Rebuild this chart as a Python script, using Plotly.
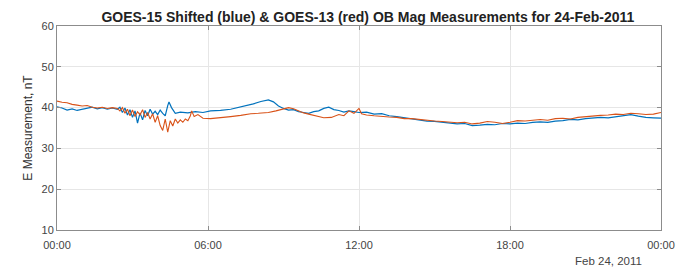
import plotly.graph_objects as go

# Hours since 00:00 on 24-Feb-2011
blue_t = [0.0, 0.2, 0.4, 0.6, 0.8, 1.0, 1.2, 1.4, 1.6, 1.8, 2.0, 2.2,
          2.4, 2.5, 2.6, 2.7, 2.8, 2.9, 3.0, 3.1, 3.2, 3.3, 3.4, 3.5, 3.6, 3.7, 3.8, 3.9,
          4.0, 4.1, 4.2, 4.3, 4.4, 4.45, 4.55, 4.7, 4.9, 5.2, 5.5, 5.8, 6.1, 6.5, 6.9,
          7.2, 7.5, 7.8, 8.1, 8.4, 8.6, 8.8, 9.0, 9.2, 9.4, 9.6, 9.8, 10.0, 10.2, 10.4,
          10.6, 10.8, 11.0, 11.2, 11.4, 11.6, 11.8, 12.0, 12.3, 12.6, 12.9, 13.2, 13.5,
          13.8, 14.1, 14.4, 14.7, 15.0, 15.3, 15.6, 15.9, 16.2, 16.5, 16.8, 17.1, 17.4,
          17.7, 18.0, 18.3, 18.6, 18.9, 19.2, 19.5, 19.8, 20.1, 20.4, 20.7, 21.0, 21.3,
          21.6, 21.9, 22.2, 22.5, 22.8, 23.1, 23.4, 23.7, 24.0]
blue_v = [40.2, 39.9, 39.4, 39.7, 39.3, 39.6, 39.9, 40.1, 39.7, 40.0, 39.6, 39.9,
          39.6, 40.1, 38.8, 39.9, 38.2, 39.5, 37.6, 39.2, 36.2, 38.7, 37.0, 39.3, 38.0, 39.6, 38.4, 39.1,
          38.3, 39.4, 38.6, 38.0, 40.5, 41.4, 40.0, 38.6, 38.9, 38.7, 39.0, 38.8, 39.2, 39.3, 39.6,
          40.0, 40.4, 40.9, 41.5, 41.9, 41.4, 40.4, 39.8, 39.4, 39.5, 39.0, 38.8, 38.6, 39.0, 39.2,
          39.8, 40.1, 39.5, 39.3, 38.9, 39.2, 39.0, 38.8, 38.9, 38.4, 38.5, 38.0, 37.8,
          37.5, 37.2, 37.0, 36.7, 36.6, 36.4, 36.3, 36.0, 36.1, 35.6, 35.7, 35.9, 35.8,
          36.1, 36.0, 36.2, 36.1, 36.4, 36.5, 36.4, 36.7, 36.8, 37.1, 37.0, 37.3, 37.4,
          37.6, 37.5, 37.8, 38.1, 38.3, 37.9, 37.6, 37.5, 37.4]

red_t = [0.0, 0.2, 0.4, 0.6, 0.8, 1.0, 1.2, 1.4, 1.6, 1.8, 2.0, 2.2,
         2.4, 2.5, 2.6, 2.7, 2.8, 2.9, 3.0, 3.1, 3.2, 3.3, 3.4, 3.5, 3.6, 3.7, 3.8, 3.9,
         4.0, 4.1, 4.2, 4.3, 4.4, 4.5, 4.6, 4.7, 4.8, 4.9, 5.0, 5.1, 5.2, 5.3, 5.35, 5.45,
         5.6, 5.8, 6.1, 6.5, 6.9, 7.3, 7.7, 8.0, 8.4, 8.7, 9.0, 9.2, 9.4, 9.6, 9.8, 10.0,
         10.3, 10.6, 10.9, 11.2, 11.4, 11.6, 11.8, 12.0, 12.1, 12.3, 12.6, 12.9, 13.2,
         13.5, 13.8, 14.1, 14.4, 14.7, 15.0, 15.3, 15.6, 15.9, 16.2, 16.5, 16.8, 17.1,
         17.4, 17.7, 18.0, 18.3, 18.6, 18.9, 19.2, 19.5, 19.8, 20.1, 20.4, 20.7, 21.0,
         21.3, 21.6, 21.9, 22.2, 22.5, 22.8, 23.1, 23.4, 23.7, 24.0]
red_v = [41.6, 41.3, 41.2, 40.8, 40.6, 40.4, 40.5, 40.1, 39.9, 40.1, 39.8, 40.0,
         39.8, 39.2, 40.0, 38.6, 39.6, 38.0, 39.4, 37.8, 39.0, 38.2, 39.5, 37.6, 38.8, 37.2, 38.5, 36.4,
         38.0, 35.6, 34.4, 37.2, 34.0, 36.8, 35.5, 37.2, 36.2, 37.0, 36.4, 37.2, 36.8, 38.0, 39.2, 37.8,
         38.3, 37.4, 37.3, 37.5, 37.8, 38.1, 38.5, 38.6, 38.8, 39.2, 39.6, 40.0, 39.7, 39.1, 38.7, 38.4,
         38.0, 37.5, 37.6, 38.3, 38.0, 39.2, 38.6, 39.8, 38.5, 38.2, 38.0, 37.8, 37.7,
         37.6, 37.3, 37.3, 37.1, 36.8, 36.7, 36.6, 36.5, 36.3, 36.4, 36.0, 36.2, 36.6,
         36.4, 36.1, 36.4, 36.8, 36.7, 36.9, 37.1, 36.9, 37.3, 37.4, 37.2, 37.6, 37.8,
         37.9, 38.1, 38.2, 38.4, 38.3, 38.6, 38.5, 38.3, 38.4, 38.8]

x_tickvals = [0, 6, 12, 18, 24]
x_ticktext = ["00:00", "06:00", "12:00", "18:00", "00:00"]
y_tickvals = [10, 20, 30, 40, 50, 60]

FONT = "Liberation Sans, Arial, sans-serif"

fig = go.Figure()
fig.add_trace(go.Scatter(x=blue_t, y=blue_v, mode="lines",
                         line=dict(color="#0072BD", width=1.2), name="GOES-15 Shifted"))
fig.add_trace(go.Scatter(x=red_t, y=red_v, mode="lines",
                         line=dict(color="#D95319", width=1.1), name="GOES-13"))

axis_common = dict(showline=True, linecolor="#8c8c8c", linewidth=1, mirror="ticks",
                   ticks="inside", ticklen=4, tickcolor="#8c8c8c",
                   showgrid=True, gridcolor="#e6e6e6", gridwidth=1, zeroline=False,
                   tickfont=dict(family=FONT, size=11, color="#444"))

fig.update_xaxes(range=[0, 24], tickvals=x_tickvals, ticktext=x_ticktext,
                 ticklabelstandoff=5, **axis_common)
fig.update_yaxes(range=[10, 60], tickvals=y_tickvals,
                 title=dict(text="E Measurement, nT", standoff=6,
                            font=dict(family=FONT, size=12, color="#333")),
                 **axis_common)

fig.add_annotation(text="Feb 24, 2011", x=24, y=0, xref="x", yref="paper",
                   xanchor="right", yanchor="middle", yshift=-31, xshift=-17, showarrow=False,
                   font=dict(family=FONT, size=11.5, color="#444"))

# page body has an 8px default margin, so the figure is shrunk by 8px each way
fig.update_layout(
    width=679, height=263,
    margin=dict(l=49, r=19, t=17, b=41),
    paper_bgcolor="white", plot_bgcolor="white",
    showlegend=False,
    title=dict(text="<b>GOES-15 Shifted (blue) & GOES-13 (red) OB Mag Measurements for 24-Feb-2011</b>",
               x=0.53, xanchor="center", y=0.965, yanchor="middle",
               font=dict(family=FONT, size=14, color="#222")),
)

fig.write_html("out.html")
